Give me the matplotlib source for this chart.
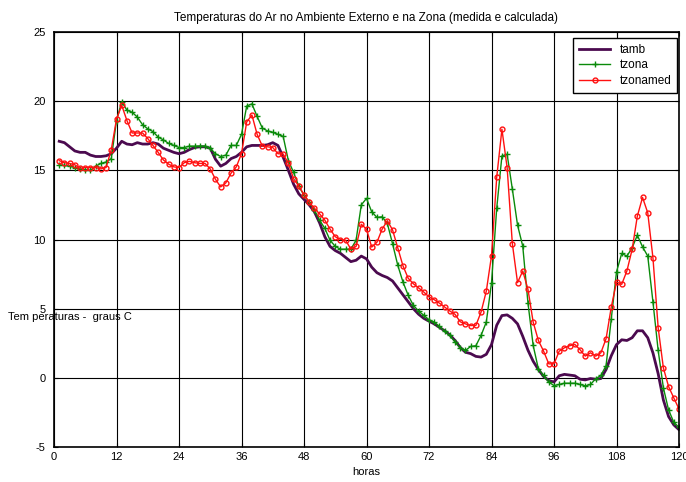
import numpy as np
import matplotlib
matplotlib.use("Agg")
import matplotlib.pyplot as plt

plt.rcParams['font.family'] = ['Liberation Sans Narrow', 'Liberation Sans', 'DejaVu Sans']
plt.rcParams['axes.unicode_minus'] = False

# hourly samples, hours 1..120
horas = np.arange(1, 121)

tamb = [17.1, 17.0, 16.7, 16.4, 16.3, 16.3, 16.1, 16.0, 16.0, 16.05,
        16.2, 16.6, 17.1, 16.9, 16.85, 17.0, 16.9, 16.9, 17.0, 16.9,
        16.6, 16.45, 16.3, 16.2, 16.3, 16.5, 16.65, 16.7, 16.7, 16.6,
        15.8, 15.3, 15.5, 15.85, 16.0, 16.3, 16.7, 16.8, 16.8, 16.8,
        16.85, 17.0, 16.8, 15.95, 15.0, 14.0, 13.3, 12.9, 12.5, 12.0,
        11.2, 10.2, 9.5, 9.2, 9.0, 8.7, 8.4, 8.5, 8.8, 8.6,
        8.0, 7.6, 7.4, 7.25, 7.0, 6.5, 6.0, 5.5, 5.0, 4.6,
        4.3, 4.1, 3.9, 3.65, 3.4, 3.1, 2.7, 2.2, 1.85, 1.75,
        1.55, 1.5, 1.7, 2.4, 3.8, 4.5, 4.55, 4.3, 3.9, 3.0,
        2.0, 1.2, 0.6, 0.1, -0.2, -0.3, 0.15, 0.25, 0.2, 0.15,
        -0.1, -0.15, -0.05, -0.1, -0.05, 0.6, 1.6, 2.4, 2.75, 2.7,
        2.9, 3.4, 3.4, 2.9, 1.8, 0.3, -1.6, -2.8, -3.4, -3.75]

tzona = [15.4, 15.35, 15.3, 15.2, 15.1, 15.05, 15.0, 15.3, 15.5, 15.6,
         15.85, 18.6, 19.95, 19.35, 19.2, 18.85, 18.3, 18.0, 17.8, 17.4,
         17.2, 16.95, 16.8, 16.65, 16.65, 16.75, 16.75, 16.75, 16.75, 16.6,
         16.2, 16.0, 16.1, 16.8, 16.8, 17.6, 19.65, 19.8, 18.9, 18.05,
         17.85, 17.75, 17.6, 17.45, 15.7, 14.85, 13.85, 13.2, 12.7, 12.1,
         11.4, 10.8, 9.95, 9.5, 9.3, 9.3, 9.3, 9.95, 12.5, 12.97,
         12.0, 11.6, 11.64, 11.16, 9.7, 8.14, 6.93, 5.97, 5.24, 4.83,
         4.52, 4.2, 4.03, 3.72, 3.36, 3.07, 2.58, 2.17, 1.98, 2.27,
         2.32, 3.07, 4.03, 6.86, 12.25, 16.04, 16.16, 13.65, 11.04, 9.52,
         5.41, 2.34, 0.65, 0.17, -0.31, -0.56, -0.48, -0.39, -0.39, -0.39,
         -0.48, -0.58, -0.48, -0.07, 0.17, 0.89, 4.28, 7.66, 8.99, 8.8,
         9.4, 10.31, 9.47, 8.8, 5.48, 1.98, -0.72, -2.32, -3.21, -3.57]

tzonamed = [15.7, 15.55, 15.5, 15.4, 15.15, 15.2, 15.2, 15.2, 15.1, 15.2,
            16.5, 18.7, 19.7, 18.6, 17.7, 17.7, 17.7, 17.3, 16.8, 16.3,
            15.75, 15.45, 15.25, 15.2, 15.55, 15.65, 15.55, 15.5, 15.5, 15.1,
            14.35, 13.8, 14.1, 14.8, 15.25, 16.2, 18.5, 19.0, 17.6, 16.75,
            16.7, 16.65, 16.2, 16.18, 15.5, 14.4, 13.85, 13.25, 12.7, 12.25,
            11.85, 11.4, 10.75, 10.2, 10.0, 9.95, 9.3, 9.5, 11.1, 10.75,
            9.45, 9.8, 10.75, 11.35, 10.7, 9.4, 8.1, 7.2, 6.8, 6.5,
            6.2, 5.85, 5.65, 5.4, 5.12, 4.83, 4.59, 4.05, 3.9, 3.78,
            3.79, 4.76, 6.26, 8.82, 14.49, 17.97, 15.2, 9.71, 6.88, 7.73,
            6.4, 4.03, 2.7, 1.93, 1.01, 1.01, 1.93, 2.17, 2.32, 2.42,
            2.03, 1.57, 1.81, 1.57, 1.81, 2.83, 5.12, 6.93, 6.76, 7.73,
            9.28, 11.69, 13.04, 11.93, 8.67, 3.62, 0.72, -0.63, -1.45, -2.25]

xticks = list(range(0, 121, 12))
yticks = list(range(-5, 26, 5))

fig = plt.figure(figsize=(6.86, 4.82), dpi=100)
ax = fig.add_axes([54 / 686, 1 - 447 / 482, 625 / 686, 415 / 482])

ax.plot(horas, tamb, color='#4b0a4f', linewidth=2, label='tamb')
ax.plot(horas, tzona, color='#0a8a0a', linewidth=1, marker='+',
        markersize=5, markeredgewidth=1, label='tzona')
ax.plot(horas, tzonamed, color='#ff1010', linewidth=1, marker='o',
        markersize=3.5, markerfacecolor='none', markeredgewidth=1, label='tzonamed')

ax.set_xlim(0, 120)
ax.set_ylim(-5, 25)
ax.set_xticks(xticks)
ax.set_yticks(yticks)
ax.grid(True, color='k', linewidth=0.8, linestyle='-')
ax.set_axisbelow(True)
ax.tick_params(direction='in', top=True, right=True, labelsize=8, length=3)
ax.tick_params(axis='y', pad=6)
for s in ax.spines.values():
    s.set_linewidth(1.2)

ax.set_title('Temperaturas do Ar no Ambiente Externo e na Zona (medida e calculada)',
             fontsize=8.5, pad=8)
ax.set_xlabel('horas', fontsize=8, labelpad=4)
fig.text(8 / 686, 1 - 317 / 482, 'Tem peraturas -  graus C', fontsize=8, va='center', ha='left')

leg = ax.legend(loc='upper right', bbox_to_anchor=(1 - 2 / 625, 1 - 6 / 415),
                borderaxespad=0, fancybox=False, framealpha=1, edgecolor='k',
                fontsize=8.5, handlelength=2.6, borderpad=0.5, labelspacing=0.3)
leg.get_frame().set_linewidth(1)

fig.savefig('out.png', dpi=100)
